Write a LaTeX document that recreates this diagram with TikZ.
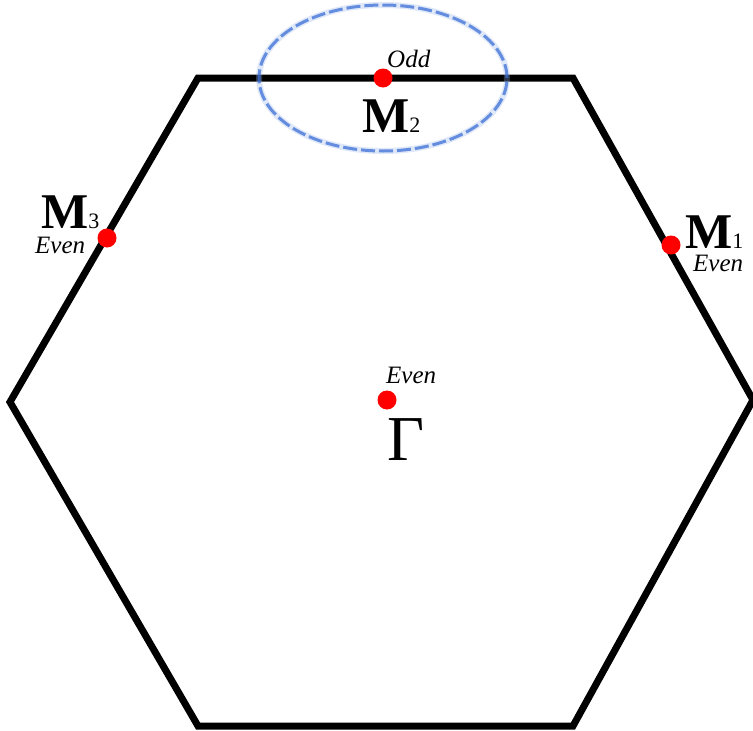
\documentclass[tikz,border=0pt]{standalone}
\usepackage{fontspec}
\setmainfont{Liberation Serif}
\begin{document}
\begin{tikzpicture}[x=1pt,y=-1pt,
  hexline/.style={line width=7pt,line join=miter,black},
  reddot/.style={circle,fill=red,inner sep=0pt,minimum size=19pt},
  parity/.style={anchor=base west,inner sep=0pt,text height=17pt,font=\fontsize{25}{25}\selectfont\itshape},
  mlabel/.style={anchor=base west,inner sep=0pt,text depth=0pt,font=\fontsize{50}{50}\selectfont\bfseries},
  ring/.style={line width=3pt,draw={rgb,255:red,60;green,110;blue,215},dash pattern=on 14pt off 4pt,opacity=0.75}]
\useasboundingbox (0,0) rectangle (753,731);
\fill[white] (0,0) rectangle (753,731);
% hexagon
\coordinate (v1) at (198,78);
\coordinate (v2) at (573,78);
\coordinate (v3) at (753,400);
\coordinate (v4) at (573,726);
\coordinate (v5) at (198,726);
\coordinate (v6) at (10,402);
\draw[hexline] (v1) -- (v2) -- (v3) -- (v4) -- (v5) -- (v6) -- cycle;
% blue ellipse
\draw[line width=6pt,draw={rgb,255:red,150;green,180;blue,235},opacity=0.3] (383,78) ellipse [x radius=124pt, y radius=73pt];
\draw[ring] (383,78) ellipse [x radius=124pt, y radius=73pt];
% points
\node[reddot] (m2) at (383,78) {};
\node[reddot] (m3) at (107,238) {};
\node[reddot] (m1) at (671,245) {};
\node[reddot] (g) at (387,400) {};
% labels
\node[parity] (odd) at (387,67) {Odd};
\node[mlabel] (m2l) at (362,132) {M{\mdseries\fontsize{22}{22}\selectfont 2}};
\node[mlabel] (m3l) at (41,228) {M{\mdseries\fontsize{22}{22}\selectfont 3}};
\node[parity] (m3p) at (35,253) {Even};
\node[mlabel] (m1l) at (685,248) {M{\mdseries\fontsize{22}{22}\selectfont 1}};
\node[parity] (m1p) at (693,271) {Even};
\node[parity] (gp) at (386,383) {Even};
\node[anchor=base west,inner sep=0pt,font=\fontsize{64}{64}\selectfont] (gl) at (387,460) {Γ};
\end{tikzpicture}
\end{document}
